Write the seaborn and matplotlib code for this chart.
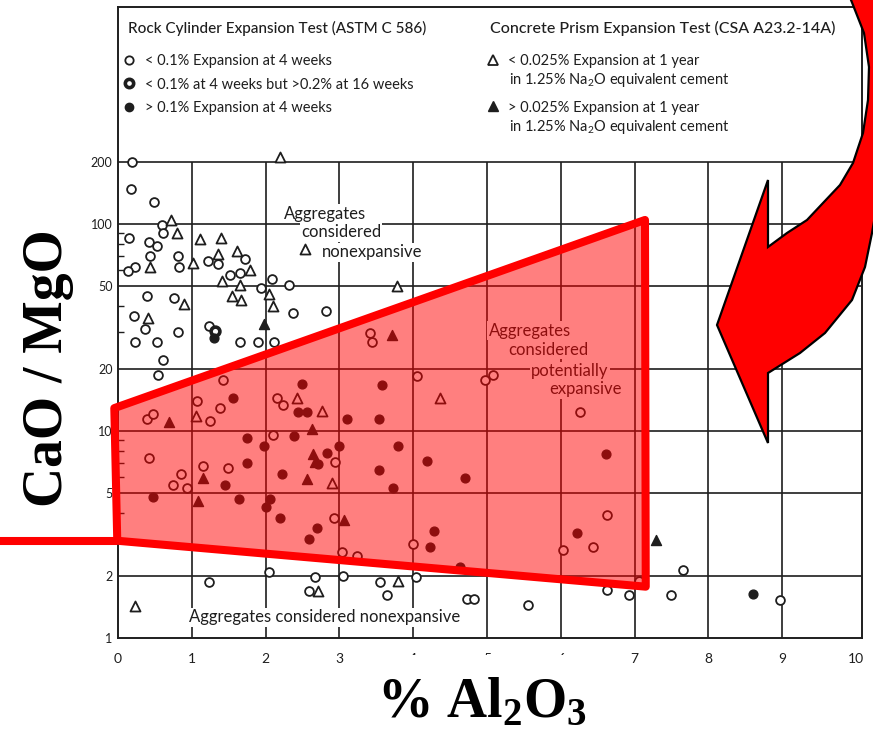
import numpy as np
import pandas as pd
import matplotlib
matplotlib.use("Agg")
import matplotlib.pyplot as plt
import seaborn as sns
from matplotlib.lines import Line2D
from matplotlib.patches import Polygon, Rectangle
from matplotlib.ticker import FixedLocator, NullFormatter

# 数据
# < 0.1% expansion at 4 weeks (open circles)
oc_x = [0.19, 0.18, 0.49, 0.60, 0.61, 0.15, 0.42, 0.53, 1.72, 0.43, 0.81, 0.83, 1.22, 1.36,
        0.23, 0.14, 1.52, 1.65, 1.94, 2.09, 2.32, 0.39, 0.76, 0.22, 0.37, 0.81, 0.23, 0.53,
        0.61, 0.54, 1.23, 1.65, 1.90, 2.11, 2.37, 2.82, 3.41, 3.44,
        1.42, 0.39, 0.47, 1.07, 1.24, 1.38, 2.15, 2.24, 2.10, 0.42, 0.85, 0.75, 0.93, 1.15,
        1.49, 2.93, 2.94, 4.05, 4.97, 5.08, 3.04, 3.24, 4.00, 6.26, 6.63, 6.03, 6.44, 7.06,
        7.66, 6.63, 6.92, 7.49, 8.97,
        1.23, 2.05, 2.67, 2.59, 3.05, 3.55, 3.64, 4.04, 4.73, 4.82, 5.56]
oc_y = [200, 148, 128, 99, 90, 86, 82, 78, 68, 70, 70, 62, 66, 64,
        62, 59, 57, 58, 49, 54, 51, 45, 44, 36, 31, 30, 27, 27,
        22, 18.7, 32, 27, 27, 27, 37, 38, 29.6, 27,
        17.7, 11.4, 12.1, 14, 11.2, 12.9, 14.4, 13.3, 9.6, 7.4, 6.2, 5.5, 5.3, 6.8,
        6.6, 3.8, 7.1, 18.5, 17.7, 18.6, 2.6, 2.5, 2.85, 12.3, 3.93, 2.66, 2.76, 1.89,
        2.14, 1.71, 1.61, 1.61, 1.52,
        1.87, 2.09, 1.98, 1.69, 2.0, 1.87, 1.61, 1.98, 1.54, 1.54, 1.44]

# < 0.1% at 4 weeks but > 0.2% at 16 weeks
hc_x = [1.31]
hc_y = [30.5]

# > 0.1% expansion at 4 weeks (filled circles)
fc_x = [1.30, 1.56, 2.44, 2.56, 2.49, 1.75, 1.98, 2.38, 1.75, 1.45, 0.47, 1.64, 2.06, 2.00,
        2.20, 2.70, 2.59, 2.22, 2.83, 2.71, 3.00, 3.58, 3.10, 3.54, 3.79, 4.19, 3.54, 4.70,
        3.73, 4.28, 4.23, 4.63, 6.22, 6.61, 8.60]
fc_y = [28, 14.4, 12.3, 12.3, 16.8, 9.2, 8.5, 9.5, 7.0, 5.5, 4.8, 4.7, 4.7, 4.3,
        3.8, 3.4, 3.0, 6.2, 7.8, 6.9, 8.5, 16.6, 11.4, 11.4, 8.5, 7.2, 6.5, 5.9,
        5.3, 3.3, 2.76, 2.2, 3.2, 7.7, 1.63]

# < 0.025% at 1 year (open triangles)
ot_x = [2.20, 0.72, 0.80, 1.11, 1.40, 1.61, 1.79, 0.43, 1.02, 1.36, 1.41, 1.65, 2.05, 2.10,
        1.55, 1.67, 0.90, 0.41, 3.78, 2.53, 1.06, 2.43, 2.76, 2.90, 4.36, 0.23, 2.71, 3.79]
ot_y = [210, 104, 90, 85, 86, 74, 60, 62, 65, 72, 53, 51, 46, 40,
        45, 43, 41, 35, 50, 76, 11.8, 14.4, 12.5, 5.6, 14.4, 1.42, 1.69, 1.89]

# > 0.025% at 1 year (filled triangles)
ft_x = [1.98, 3.71, 0.69, 2.63, 2.64, 2.67, 2.56, 1.15, 1.08, 3.06, 7.29]
ft_y = [33, 29, 11, 10.2, 7.7, 7.1, 5.85, 5.9, 4.6, 3.7, 2.99]

x_ticks = list(range(0, 11))
y_ticks = [1, 2, 5, 10, 20, 50, 100, 200]
y_tick_labels = ['1', '2', '5', '10', '20', '50', '100', '200']

# 红色梯形区域（潜在膨胀）
zone_x = [-0.05, 7.14, 7.15, -0.01]
zone_y = [12.9, 104.6, 1.77, 2.95]

ink = '#1e1e1e'

sns.set_style("white")
plt.rcParams['font.family'] = ['Lato', 'DejaVu Sans']
plt.rcParams['mathtext.fontset'] = 'custom'
plt.rcParams['mathtext.rm'] = 'Lato'
plt.rcParams['mathtext.it'] = 'Lato:italic'
plt.rcParams['mathtext.bf'] = 'Liberation Serif:bold'

df = pd.concat([
    pd.DataFrame({'x': oc_x, 'y': oc_y, 'kind': 'oc'}),
    pd.DataFrame({'x': hc_x, 'y': hc_y, 'kind': 'hc'}),
    pd.DataFrame({'x': fc_x, 'y': fc_y, 'kind': 'fc'}),
    pd.DataFrame({'x': ot_x, 'y': ot_y, 'kind': 'ot'}),
    pd.DataFrame({'x': ft_x, 'y': ft_y, 'kind': 'ft'}),
])

styles = {
    'oc': dict(marker='o', s=40, color='white', edgecolor=ink, linewidth=1.3),
    'hc': dict(marker='o', s=40, color='white', edgecolor=ink, linewidth=2.6),
    'fc': dict(marker='o', s=40, color=ink, edgecolor=ink, linewidth=1.0),
    'ot': dict(marker='^', s=52, color='white', edgecolor=ink, linewidth=1.3),
    'ft': dict(marker='^', s=52, color=ink, edgecolor=ink, linewidth=1.0),
}

fig = plt.figure(figsize=(8.73, 7.30), dpi=100)
ax = fig.add_axes([118 / 873, 92 / 730, 744 / 873, 631 / 730])
ax.set_yscale('log')
ax.set_xlim(0, 10.08)
ax.set_ylim(1, 10 ** (631 / 207))

# 网格线（只画到 200）
ax.hlines(y_ticks[1:], 0, 10.08, color=ink, lw=1.2, zorder=1)
ax.vlines(x_ticks[1:10], 1, 200, color=ink, lw=1.2, zorder=1)

for kind, kw in styles.items():
    sns.scatterplot(data=df[df['kind'] == kind], x='x', y='y', ax=ax, zorder=3,
                    legend=False, **kw)

ax.set_xlabel('')
ax.set_ylabel('')
ax.set_xticks(x_ticks)
ax.set_yticks(y_ticks, labels=y_tick_labels)
ax.yaxis.set_minor_locator(FixedLocator([m * 10 ** e for e in (0, 1, 2)
                                         for m in (3, 4, 6, 7, 8, 9) if m * 10 ** e < 200]))
ax.yaxis.set_minor_formatter(NullFormatter())
ax.tick_params(axis='x', length=0, pad=11, labelsize=10, labelcolor=ink)
ax.tick_params(axis='y', which='major', length=0, pad=4, labelsize=9, labelcolor=ink)
ax.tick_params(axis='y', which='minor', direction='in', length=4, width=1, color=ink, left=True)
for sp in ax.spines.values():
    sp.set_visible(True)
    sp.set_color(ink)
    sp.set_linewidth(1.4)

# 区域说明文字
box = dict(facecolor='white', edgecolor='none', pad=1.0)
for txt, tx, ty in [('Aggregates', 2.80, 112), ('considered', 3.02, 91), ('nonexpansive', 3.44, 73),
                    ('Aggregates', 5.58, 30.5), ('considered', 5.83, 24.7),
                    ('potentially', 6.12, 19.4), ('expansive', 6.33, 15.9),
                    ('Aggregates considered nonexpansive', 2.80, 1.26)]:
    ax.text(tx, ty, txt, ha='center', va='center', fontsize=12, color=ink, bbox=box, zorder=2)

# 图例
h_rock = [Line2D([], [], ls='', marker='o', ms=6, mfc='white', mec=ink, mew=1.3),
          Line2D([], [], ls='', marker='o', ms=6, mfc='white', mec=ink, mew=2.6),
          Line2D([], [], ls='', marker='o', ms=6, mfc=ink, mec=ink)]
l_rock = ['< 0.1% Expansion at 4 weeks', '< 0.1% at 4 weeks but >0.2% at 16 weeks',
          '> 0.1% Expansion at 4 weeks']
h_prism = [Line2D([], [], ls='', marker='^', ms=7, mfc='white', mec=ink, mew=1.3),
           Line2D([], [], ls='', marker='^', ms=7, mfc=ink, mec=ink)]
l_prism = ['< 0.025% Expansion at 1 year', '> 0.025% Expansion at 1 year']

leg1 = ax.legend(h_rock, l_rock, loc='upper left', bbox_to_anchor=(0.005, 0.9252),
                 frameon=False, fontsize=10.5, handlelength=1.0, handletextpad=0.6,
                 labelspacing=0.64, borderpad=0, borderaxespad=0, labelcolor=ink)
ax.add_artist(leg1)
ax.legend(h_prism, l_prism, loc='upper left', bbox_to_anchor=(0.4942, 0.9252),
          frameon=False, fontsize=10.5, handlelength=1.0, handletextpad=0.53,
          labelspacing=2.22, borderpad=0, borderaxespad=0, labelcolor=ink)
for ty in (0.884, 0.810):
    ax.text(0.5255, ty, 'in 1.25% Na$_2$O equivalent cement', transform=ax.transAxes,
            fontsize=10.5, color=ink, va='center')
ax.text(0.0134, 0.9667, 'Rock Cylinder Expansion Test (ASTM C 586)', transform=ax.transAxes,
        fontsize=11, color=ink, va='center', weight='medium')
ax.text(0.5, 0.9667, 'Concrete Prism Expansion Test (CSA A23.2-14A)', transform=ax.transAxes,
        fontsize=11.5, color=ink, va='center', weight='medium')

# 红色叠加区域
ax.add_patch(Polygon(list(zip(zone_x, zone_y)), closed=True, facecolor=(1, 0, 0, 0.5),
                     edgecolor='red', lw=5.8, joinstyle='round', zorder=5, clip_on=False))
ax.plot([-1.7, zone_x[3]], [zone_y[3], zone_y[3]], color='red', lw=5.8, clip_on=False,
        solid_capstyle='butt', zorder=5)

# 弯箭头（像素坐标）
arrow_px = [(890, -5), (888, 150), (876, 210), (872, 233), (865, 267), (852, 300), (825, 333),
            (800, 353), (768, 373), (768, 443), (717, 325), (768, 180), (768, 247), (787, 233),
            (807, 220), (823, 203), (840, 185), (853, 163), (863, 133), (868, 100), (869, 67),
            (864, 33), (853, 5), (849, -5)]
fig.add_artist(Polygon([(px / 873, 1 - py / 730) for px, py in arrow_px], closed=True,
                       transform=fig.transFigure, facecolor='red', edgecolor='black',
                       lw=1.6, zorder=10))

# 坐标轴标题
fig.add_artist(Rectangle((398 / 873, 0), 180 / 873, 75 / 730, transform=fig.transFigure,
                         facecolor='white', edgecolor='none', zorder=5))
fig.text(482 / 873, 1 - 703 / 730, r'% Al$_\mathbf{2}$O$_\mathbf{3}$', ha='center', va='center',
         fontsize=40, family='Liberation Serif', weight='bold', color='black', zorder=6)
fig.text(48 / 873, 1 - 368 / 730, 'CaO / MgO', ha='center', va='center', rotation=90,
         fontsize=40, family='Liberation Serif', weight='bold', color='black')

plt.savefig('out.png', dpi=100)
